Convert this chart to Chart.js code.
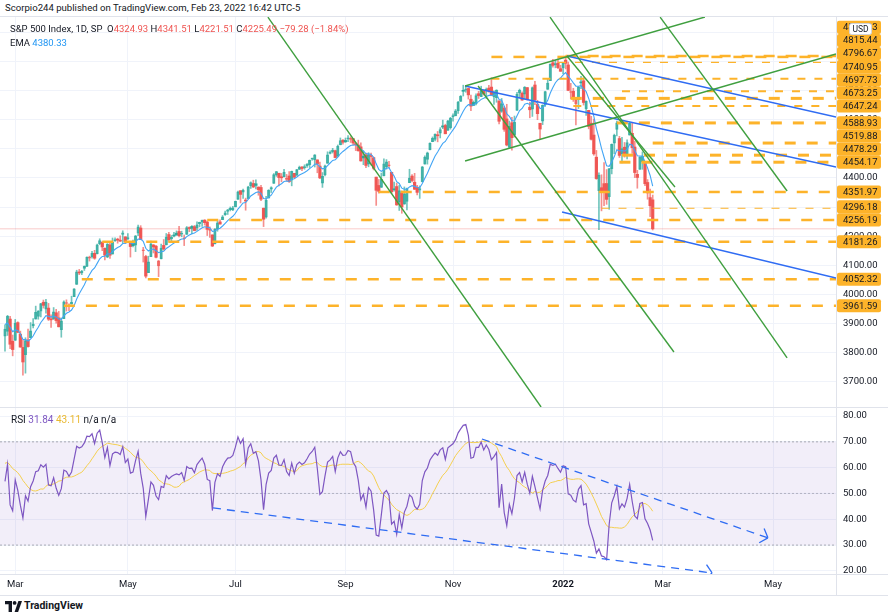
<!DOCTYPE html>
<html>
<head>
<meta charset="utf-8">
<title>S&amp;P 500 Index, 1D</title>
<script src="https://cdn.jsdelivr.net/npm/chart.js@4.4.1/dist/chart.umd.min.js"></script>
<style>
  html, body { margin: 0; padding: 0; background: #fff; }
  body { width: 888px; height: 616px; position: relative; overflow: hidden;
         font-family: Roboto, "Noto Sans", sans-serif; font-size: 9.5px; color: #131722; }
  canvas { position: absolute; left: 0; }
  #price { top: 17px; }
  #rsi { top: 407px; }
  .txt { position: absolute; white-space: nowrap; line-height: 12px; }
  .hline { position: absolute; left: 0; width: 888px; height: 1px; background: #e0e3eb; }
  .vline { position: absolute; left: 836px; top: 17px; width: 1px; height: 578px; background: #e0e3eb; }
  .dn { color: #ef5350; }
  .ema { color: #2196f3; }
  .rsiv { color: #7e57c2; }
  .rsim { color: #e9b830; }
</style>
</head>
<body>
<canvas id="price" width="888" height="390"></canvas>
<canvas id="rsi" width="888" height="188"></canvas>
<div class="hline" style="top:16px"></div>
<div class="hline" style="top:407px"></div>
<div class="hline" style="top:574px"></div>
<div class="hline" style="top:595px"></div>
<div class="vline"></div>
<div class="txt" style="left:5px;top:2px;font-size:9.6px">Scorpio244 published on TradingView.com, Feb 23, 2022 16:42 UTC-5</div>
<div class="txt" style="left:10px;top:23px">S&amp;P 500 Index, 1D, SP&nbsp; O<span class="dn">4324.93</span> H<span class="dn">4341.51</span> L<span class="dn">4221.51</span> C<span class="dn">4225.49</span> <span class="dn">−79.28 (−1.84%)</span></div>
<div class="txt" style="left:10px;top:37px">EMA <span class="ema">4380.33</span></div>
<div class="txt" style="left:11px;top:414px;font-size:10px">RSI <span class="rsiv">31.84</span> <span class="rsim">43.11</span> n/a n/a</div>
<svg style="position:absolute;left:5px;top:601px" width="17" height="11" viewBox="0 0 17 11">
  <path d="M0 0h7v11H3.6V3.3H0z" fill="#131722"/>
  <circle cx="9.6" cy="1.9" r="1.9" fill="#131722"/>
  <path d="M9.6 11L13.4 0H17l-3.9 11z" fill="#131722"/>
</svg>
<div class="txt" style="left:24px;top:600px;font-weight:700;font-size:10.5px">TradingView</div>

<script>
// ---- data: S&P 500 daily candles, Feb 23 2021 .. Feb 23 2022 (x = trading day index) ----
// closes before the first drawn candle, only used to warm up EMA / RSI
const warmupCloses = [3662.45, 3669.01, 3666.72, 3699.12, 3691.96, 3702.25, 3672.82, 3668.10, 3663.46, 3647.49, 3694.62, 3701.17, 3722.48, 3709.41, 3694.92, 3687.26, 3690.01, 3703.06, 3735.36, 3727.04, 3732.04, 3756.07,
  3700.65, 3726.86, 3748.14, 3803.79, 3824.68, 3799.61, 3801.19, 3809.84, 3795.54, 3768.25, 3798.91, 3851.85, 3853.07, 3841.47, 3855.36, 3849.62, 3750.77, 3787.38, 3714.24,
  3773.86, 3826.31, 3830.17, 3871.74, 3886.83, 3915.59, 3911.23, 3909.88, 3916.38, 3934.83, 3932.59, 3931.33, 3913.97, 3906.71, 3876.50];

const opens = [3857.07, 3873.71, 3915.80, 3839.66,
  3842.51, 3903.64, 3863.99, 3818.53, 3793.58, 3844.39, 3851.93, 3891.99, 3915.54, 3924.52, 3942.96, 3973.59, 3949.57, 3953.50, 3913.14, 3916.48, 3937.60, 3919.93, 3879.34, 3917.12, 3969.31, 3963.34, 3967.25,
  3992.78, 4034.44, 4075.57, 4074.29, 4089.95, 4096.11, 4124.71, 4130.10, 4141.58, 4139.76, 4174.14, 4179.80, 4159.18, 4128.42, 4170.46, 4138.78, 4185.03, 4188.25, 4185.14, 4206.14, 4198.10,
  4191.98, 4179.04, 4177.06, 4169.14, 4210.34, 4228.29, 4150.34, 4130.55, 4074.99, 4129.58, 4169.92, 4165.94, 4098.45, 4121.97, 4168.61, 4170.16, 4205.94, 4191.59, 4201.94, 4210.77,
  4216.52, 4206.82, 4191.43, 4206.05, 4229.34, 4233.81, 4232.99, 4228.56, 4242.90, 4248.31, 4255.28, 4248.87, 4220.37, 4204.78, 4173.40, 4224.61, 4249.27, 4256.97, 4274.45, 4284.90, 4293.21, 4290.65,
  4300.73, 4326.60, 4356.46, 4351.01, 4321.07, 4329.38, 4372.41, 4381.07, 4380.11, 4369.02, 4367.43, 4296.40, 4265.11, 4331.13, 4361.27, 4381.20, 4409.58, 4416.38, 4402.95, 4403.59, 4395.12,
  4406.86, 4392.74, 4415.95, 4408.86, 4429.07, 4437.77, 4435.79, 4442.18, 4446.08, 4464.84, 4461.65, 4462.12, 4440.94, 4382.44, 4410.56, 4450.29, 4484.40, 4490.45, 4493.75, 4474.10, 4513.76, 4529.75,
  4528.80, 4534.48, 4532.42, 4535.38, 4518.09, 4513.02, 4506.92, 4474.81, 4479.33, 4447.49, 4477.09, 4469.74, 4402.95, 4374.45, 4367.43, 4406.75, 4438.04, 4442.12, 4419.54, 4362.41, 4370.67,
  4317.16, 4348.84, 4309.87, 4319.57, 4383.73, 4406.51, 4385.44, 4368.31, 4358.01, 4386.75, 4447.69, 4463.72, 4497.34, 4524.42, 4532.24, 4546.12, 4553.69, 4578.69, 4580.22, 4562.84, 4572.87,
  4610.62, 4613.34, 4630.65, 4662.93, 4699.26, 4701.48, 4707.25, 4670.26, 4659.39, 4655.24, 4689.30, 4679.42, 4701.50, 4700.72, 4708.44, 4712.00, 4678.48, 4675.78, 4664.63, 4628.75, 4640.25,
  4602.82, 4504.73, 4589.49, 4548.37, 4631.97, 4690.86, 4691.00, 4687.64, 4710.30, 4642.99, 4636.46, 4719.13, 4652.50, 4587.90, 4594.96, 4650.36, 4703.96, 4733.99, 4795.49, 4788.64, 4794.23, 4775.21,
  4778.14, 4804.51, 4787.99, 4693.39, 4697.66, 4655.34, 4669.14, 4728.59, 4733.56, 4637.99, 4632.24, 4588.03, 4547.35, 4471.38, 4356.32, 4366.64, 4380.58, 4380.95, 4336.19, 4431.79,
  4519.57, 4566.39, 4535.41, 4482.79, 4505.75, 4480.02, 4547.00, 4553.24, 4506.27, 4412.61, 4429.28, 4455.75, 4456.06, 4384.57, 4332.74, 4324.93];

const highs = [3895.98, 3928.65, 3925.02, 3861.08,
  3914.50, 3906.41, 3874.47, 3843.67, 3851.69, 3881.06, 3903.76, 3917.35, 3960.27, 3944.99, 3970.08, 3981.04, 3983.87, 3969.62, 3930.12, 3955.31, 3949.13, 3942.08, 3919.54, 3978.19, 3981.83, 3968.01, 3994.41,
  4020.63, 4083.42, 4086.23, 4083.13, 4098.19, 4129.48, 4131.76, 4148.00, 4151.69, 4173.49, 4191.31, 4180.81, 4159.18, 4175.02, 4179.57, 4194.17, 4194.19, 4193.35, 4201.53, 4218.78, 4198.10,
  4209.39, 4179.04, 4186.72, 4202.70, 4238.04, 4236.39, 4162.04, 4134.73, 4131.58, 4183.13, 4171.92, 4169.15, 4116.93, 4172.80, 4188.72, 4209.52, 4213.42, 4202.61, 4213.38, 4218.36,
  4234.12, 4217.37, 4204.39, 4233.45, 4232.34, 4236.74, 4237.09, 4249.74, 4248.38, 4255.59, 4257.16, 4251.89, 4232.29, 4204.78, 4226.24, 4255.84, 4256.60, 4271.28, 4286.12, 4292.14, 4300.52, 4302.43,
  4320.66, 4355.43, 4356.46, 4361.88, 4330.88, 4371.60, 4386.68, 4392.37, 4393.68, 4369.02, 4375.09, 4296.40, 4336.84, 4359.70, 4369.87, 4415.18, 4422.73, 4416.38, 4415.47, 4429.97, 4412.25,
  4422.18, 4423.79, 4416.17, 4429.76, 4440.82, 4439.39, 4445.21, 4449.44, 4461.77, 4468.37, 4480.26, 4462.12, 4454.32, 4418.61, 4444.35, 4489.88, 4492.81, 4501.71, 4495.90, 4513.33, 4537.36, 4531.39,
  4537.11, 4545.85, 4541.45, 4535.38, 4521.79, 4529.90, 4520.47, 4492.99, 4485.68, 4486.87, 4485.87, 4471.52, 4402.95, 4394.87, 4416.75, 4465.40, 4463.12, 4457.30, 4419.54, 4385.57, 4382.55,
  4375.19, 4355.51, 4369.23, 4365.57, 4429.97, 4412.02, 4415.88, 4374.89, 4372.87, 4439.73, 4475.82, 4488.75, 4520.40, 4540.87, 4551.44, 4559.67, 4572.62, 4598.53, 4584.57, 4597.55, 4608.08,
  4620.34, 4635.15, 4663.46, 4683.00, 4718.50, 4714.92, 4708.53, 4684.85, 4664.55, 4688.47, 4697.42, 4714.95, 4701.50, 4708.80, 4717.75, 4743.83, 4699.39, 4702.87, 4664.63, 4672.95, 4646.02,
  4652.94, 4595.46, 4608.03, 4612.60, 4694.04, 4705.06, 4695.26, 4713.57, 4710.30, 4660.47, 4712.60, 4731.99, 4666.70, 4587.90, 4651.14, 4697.67, 4740.74, 4791.49, 4807.02, 4804.06, 4808.93, 4786.83,
  4796.64, 4818.62, 4797.70, 4725.01, 4707.95, 4673.02, 4714.13, 4748.83, 4744.13, 4665.13, 4632.24, 4611.55, 4602.11, 4494.52, 4417.35, 4411.01, 4453.23, 4428.74, 4432.72, 4516.89,
  4550.49, 4595.31, 4542.88, 4539.66, 4521.86, 4531.32, 4590.03, 4588.92, 4526.33, 4426.22, 4472.77, 4489.55, 4456.06, 4394.60, 4362.12, 4341.51];

const lows = [3805.59, 3859.60, 3814.04, 3789.54,
  3842.51, 3868.57, 3818.86, 3723.34, 3730.19, 3819.25, 3851.93, 3885.73, 3915.54, 3915.21, 3923.54, 3953.44, 3935.74, 3910.86, 3886.75, 3914.16, 3901.57, 3889.07, 3853.50, 3917.12, 3943.25, 3944.35, 3966.98,
  3992.78, 4034.44, 4068.14, 4068.31, 4082.54, 4095.51, 4114.82, 4124.43, 4120.87, 4139.76, 4170.75, 4150.47, 4118.38, 4126.35, 4123.69, 4138.78, 4182.36, 4176.22, 4181.78, 4176.81, 4174.85,
  4188.03, 4128.59, 4163.22, 4147.33, 4201.64, 4188.13, 4111.53, 4056.88, 4074.99, 4129.58, 4142.69, 4125.99, 4061.41, 4121.97, 4151.72, 4170.16, 4182.52, 4184.11, 4197.78, 4203.57,
  4197.59, 4198.27, 4167.93, 4206.05, 4215.66, 4208.41, 4218.74, 4220.34, 4232.25, 4234.07, 4238.35, 4202.45, 4196.05, 4164.40, 4173.40, 4217.27, 4241.43, 4256.97, 4271.16, 4274.67, 4287.04, 4287.96,
  4300.73, 4326.60, 4314.37, 4329.79, 4289.37, 4329.38, 4364.03, 4366.92, 4362.36, 4340.70, 4322.53, 4233.13, 4262.05, 4331.13, 4350.06, 4381.20, 4405.45, 4372.51, 4387.01, 4403.59, 4389.65,
  4384.81, 4373.00, 4400.23, 4408.86, 4429.07, 4424.74, 4430.03, 4436.42, 4435.96, 4460.82, 4437.66, 4417.83, 4397.59, 4367.73, 4406.80, 4450.29, 4482.28, 4485.66, 4468.99, 4474.10, 4513.76, 4515.80,
  4522.02, 4524.66, 4521.94, 4513.00, 4493.95, 4492.07, 4457.66, 4445.70, 4435.46, 4438.37, 4443.80, 4427.76, 4305.91, 4347.96, 4367.43, 4406.75, 4430.27, 4436.19, 4346.33, 4355.08, 4306.24,
  4288.52, 4278.94, 4309.87, 4290.49, 4383.73, 4386.22, 4360.59, 4342.09, 4329.92, 4386.75, 4447.69, 4447.47, 4496.41, 4524.40, 4526.89, 4524.00, 4537.36, 4569.17, 4551.66, 4562.84, 4567.59,
  4595.06, 4613.34, 4621.19, 4662.59, 4681.32, 4694.39, 4670.87, 4630.86, 4648.31, 4650.77, 4672.86, 4679.42, 4684.41, 4672.78, 4694.22, 4682.17, 4652.66, 4659.89, 4585.43, 4625.26, 4560.00,
  4510.27, 4504.73, 4495.12, 4540.51, 4631.97, 4674.52, 4665.98, 4670.24, 4667.60, 4606.52, 4611.22, 4651.89, 4600.22, 4531.10, 4583.16, 4645.53, 4703.96, 4733.99, 4780.04, 4778.08, 4775.33, 4765.75,
  4758.17, 4774.27, 4699.44, 4671.26, 4662.74, 4582.24, 4638.27, 4706.71, 4650.29, 4614.75, 4568.70, 4530.20, 4477.95, 4395.34, 4222.62, 4287.11, 4304.80, 4309.50, 4292.46, 4414.02,
  4483.53, 4544.32, 4470.39, 4451.50, 4471.47, 4465.40, 4547.00, 4484.31, 4401.41, 4364.84, 4429.28, 4429.68, 4373.81, 4327.22, 4267.11, 4221.51];

const closes = [3881.37, 3925.43, 3829.34, 3811.15,
  3901.82, 3870.29, 3819.72, 3768.47, 3841.94, 3821.35, 3875.44, 3898.81, 3939.34, 3943.34, 3968.94, 3962.71, 3974.12, 3915.46, 3913.10, 3940.59, 3910.52, 3889.14, 3909.52, 3974.54, 3971.09, 3958.55, 3972.89,
  4019.87, 4077.91, 4073.94, 4079.95, 4097.17, 4128.80, 4127.99, 4141.59, 4124.66, 4170.42, 4185.47, 4163.26, 4134.94, 4173.42, 4134.98, 4180.17, 4187.62, 4186.72, 4183.18, 4211.47, 4181.17,
  4192.66, 4164.66, 4167.59, 4201.62, 4232.60, 4188.43, 4152.10, 4063.04, 4112.50, 4173.85, 4163.29, 4127.83, 4115.68, 4159.12, 4155.86, 4197.05, 4188.13, 4195.99, 4200.88, 4204.11,
  4202.04, 4208.12, 4192.85, 4229.89, 4226.52, 4227.26, 4219.55, 4239.18, 4247.44, 4255.15, 4246.59, 4223.70, 4221.86, 4166.45, 4224.79, 4246.44, 4241.84, 4266.49, 4280.70, 4290.61, 4291.80, 4297.50,
  4319.94, 4352.34, 4343.54, 4358.13, 4320.82, 4369.55, 4384.63, 4369.21, 4374.30, 4360.03, 4327.16, 4258.49, 4323.06, 4358.69, 4367.48, 4411.79, 4422.30, 4401.46, 4400.64, 4419.15, 4395.26,
  4387.16, 4423.15, 4402.66, 4429.10, 4436.52, 4432.35, 4436.75, 4447.70, 4460.83, 4468.00, 4479.71, 4448.08, 4400.27, 4405.80, 4441.67, 4479.53, 4486.23, 4496.19, 4470.00, 4509.37, 4528.79, 4522.68,
  4524.09, 4536.95, 4535.43, 4520.03, 4514.07, 4493.28, 4458.58, 4468.73, 4443.05, 4480.70, 4473.75, 4432.99, 4357.73, 4354.19, 4395.64, 4448.98, 4455.48, 4443.11, 4352.63, 4359.46, 4307.54,
  4357.04, 4300.46, 4345.72, 4363.55, 4399.76, 4391.34, 4361.19, 4350.65, 4363.80, 4438.26, 4471.37, 4486.46, 4519.63, 4536.19, 4549.78, 4544.90, 4566.48, 4574.79, 4551.68, 4596.42, 4605.38,
  4613.67, 4630.65, 4660.57, 4680.06, 4697.53, 4701.70, 4685.25, 4646.71, 4649.27, 4682.85, 4682.80, 4700.90, 4688.67, 4704.54, 4697.96, 4682.94, 4690.70, 4701.46, 4594.62, 4655.27, 4567.00,
  4513.04, 4577.10, 4538.43, 4591.67, 4686.75, 4701.21, 4667.45, 4712.02, 4668.97, 4634.09, 4709.85, 4668.67, 4620.64, 4568.02, 4649.23, 4696.56, 4725.79, 4791.19, 4786.35, 4793.06, 4778.73, 4766.18,
  4796.56, 4793.54, 4700.58, 4696.05, 4677.03, 4670.29, 4713.07, 4726.35, 4659.03, 4662.85, 4577.11, 4532.76, 4482.73, 4397.94, 4410.13, 4356.45, 4349.93, 4326.51, 4431.85, 4515.55,
  4546.54, 4589.38, 4477.44, 4500.53, 4483.87, 4521.54, 4587.18, 4504.08, 4418.64, 4401.67, 4471.07, 4475.01, 4380.26, 4348.87, 4304.77, 4225.49];

// time axis labels: [trading day index, text]
const monthTickDays = [4, 48, 90, 133, 175, 218, 257, 300];
const monthTickLabels = ['Mar', 'May', 'Jul', 'Sep', 'Nov', '2022', 'Mar', 'May'];

// horizontal rays: price and the day they start on
const levelPrices = [4818.63, 4815.44, 4796.67, 4740.95, 4697.73, 4673.25, 4647.24, 4588.93, 4519.88, 4478.29, 4454.17, 4351.97, 4296.18, 4256.19, 4181.26, 4052.32, 3961.59];
const levelStartDay = [219, 190, 216, 190, 241, 221, 222, 239, 253, 241, 240, 146, 233, 79, 38, 30, 23];
const lastPrice = 4225.49;

// trend lines, [day, price] end points
const greenLines = [
  [[102.7, 4952], [209.4, 3614]],
  [[184.8, 4715.7], [261.3, 3802.9]],
  [[212.9, 4952], [305.5, 3782.3]],
  [[219.5, 4818.7], [261.7, 4369]],
  [[255.9, 4952], [305.5, 4355.4]],
  [[179.7, 4715.7], [273.4, 4952.5]],
  [[179.7, 4458.3], [324.6, 4825.5]]
];
const blueLines = [
  [[219.5, 4818.7], [324.6, 4609.3]],
  [[179.7, 4715.7], [324.6, 4437.7]],
  [[217.6, 4283.3], [324.6, 4056.8]]
];
// dashed arrows on the RSI pane, [day, rsi]
const rsiLines = [
  [[186.3, 71.1], [298.0, 32.8]],
  [[81.25, 44.4], [276.2, 19.2]]
];

// ---- look ----
const X_MIN = -1.95, X_MAX = 324.6;
const P_MIN = 3614, P_MAX = 4952.5;
const R_MIN = 18.8, R_MAX = 83.5;
const FONT = 'Roboto, "Noto Sans", sans-serif';
const GRID = '#f0f3fa';
const ORANGE = '#fdb32a';
const GREEN = '#3f9f3f';
const BLUE = '#2f6cf3';
const levelWidths = [2.5, 2.5, 1.4, 2, 2, 3, 2, 3, 3, 3, 3, 2.5, 1.2, 2.5, 2.5, 2.5, 2.5];
const TAG_H = 13.1;

// ---- indicators (EMA 9, RSI 14 with 14 SMA) ----
const allCloses = warmupCloses.concat(closes);
const W = warmupCloses.length;

function ema(src, n) {
  const a = 2 / (n + 1);
  const out = [];
  src.forEach((v, k) => out.push(k === 0 ? v : a * v + (1 - a) * out[k - 1]));
  return out;
}
function rsi(src, n) {
  const out = src.map(() => null);
  let g = 0, l = 0;
  for (let k = 1; k <= n; k++) {
    const d = src[k] - src[k - 1];
    if (d > 0) g += d; else l -= d;
  }
  g /= n; l /= n;
  out[n] = 100 - 100 / (1 + g / l);
  for (let k = n + 1; k < src.length; k++) {
    const d = src[k] - src[k - 1];
    g = (g * (n - 1) + Math.max(d, 0)) / n;
    l = (l * (n - 1) + Math.max(-d, 0)) / n;
    out[k] = l === 0 ? 100 : 100 - 100 / (1 + g / l);
  }
  return out;
}
function sma(src, n) {
  return src.map((v, k) => {
    if (k < n - 1) return null;
    const win = src.slice(k - n + 1, k + 1);
    if (win.some(x => x === null)) return null;
    return win.reduce((s, x) => s + x, 0) / n;
  });
}
const emaVals = ema(allCloses, 9).slice(W);
const rsiAll = rsi(allCloses, 14);
const rsiVals = rsiAll.slice(W);
const rsiMaVals = sma(rsiAll, 14).slice(W);

// ---- hollow candle colours ----
const TEAL = '38,166,154', RED = '239,83,80';
const candleRGB = closes.map((c, i) => c >= (i ? closes[i - 1] : warmupCloses[W - 1]) ? TEAL : RED);
const filled = closes.map((c, i) => c < opens[i]);
const bodyFill = candleRGB.map((rgb, i) => filled[i] ? `rgba(${rgb},0.95)` : `rgba(${rgb},0.25)`);
const bodyBorder = candleRGB.map((rgb, i) => filled[i] ? `rgba(${rgb},0.95)` : `rgba(${rgb},0.75)`);
const bodyBW = filled.map(f => f ? 0 : 0.8);
const wickColor = candleRGB.map(rgb => `rgba(${rgb},0.65)`);

const seg = (pts, color, width, order, dash) => ({
  type: 'line', data: pts.map(p => ({ x: p[0], y: p[1] })),
  borderColor: color, borderWidth: width, borderDash: dash || [], pointRadius: 0, order
});

const timeX = (showLabels) => ({
  type: 'linear', min: X_MIN, max: X_MAX, offset: false,
  grid: { color: GRID, drawTicks: false, offset: false },
  border: { display: false },
  afterBuildTicks: s => { s.ticks = monthTickDays.map(v => ({ value: v })); },
  ticks: {
    display: showLabels, autoSkip: false, maxRotation: 0, padding: 5, color: '#131722',
    font: c => ({ family: FONT, size: 9.5, weight: c.index === 5 ? 'bold' : 'normal' }),
    callback: (v, i) => monthTickLabels[i]
  },
  afterFit: s => { s.height = showLabels ? 21 : 0; s.paddingLeft = 0; s.paddingRight = 0; }
});
const rightY = (min, max, step) => ({
  position: 'right', min, max, beginAtZero: false,
  grid: { color: GRID, drawTicks: false },
  border: { display: false },
  ticks: { stepSize: step, includeBounds: false, autoSkip: false, padding: 7, color: '#131722',
           font: { family: FONT, size: 9.5 }, callback: v => v.toFixed(2) },
  afterFit: s => { s.width = 52; s.paddingTop = 0; s.paddingBottom = 0; }
});

// tags for the horizontal rays, pushed apart like the platform does
const levelTags = {
  id: 'levelTags',
  afterDraw(chart) {
    const { ctx, chartArea, scales } = chart;
    const tags = levelPrices.map(p => ({ p, y: scales.y.getPixelForValue(p) })).sort((a, b) => b.y - a.y);
    let prev = Infinity;
    tags.forEach(t => { t.y = Math.min(t.y, prev - TAG_H); prev = t.y; });
    ctx.save();
    ctx.font = `9.5px ${FONT}`;
    ctx.textBaseline = 'middle';
    tags.forEach(t => {
      ctx.fillStyle = ORANGE;
      ctx.beginPath();
      ctx.roundRect(chartArea.right + 1, t.y - TAG_H / 2, 44, TAG_H, 2);
      ctx.fill();
      ctx.fillStyle = '#131722';
      ctx.fillText(t.p.toFixed(2), chartArea.right + 7, t.y + 0.5);
    });
    // currency badge
    ctx.fillStyle = '#fff';
    ctx.strokeStyle = '#d1d4dc';
    ctx.lineWidth = 1;
    ctx.beginPath();
    ctx.roundRect(849.5, 6.5, 22, 11, 2);
    ctx.fill(); ctx.stroke();
    ctx.fillStyle = '#131722';
    ctx.font = `8.5px ${FONT}`;
    ctx.textAlign = 'center';
    ctx.fillText('USD', 860.5, 12.5);
    ctx.restore();
  }
};

const arrowHeads = {
  id: 'arrowHeads',
  afterDatasetsDraw(chart) {
    const { ctx, chartArea, scales: { x, y } } = chart;
    ctx.save();
    ctx.beginPath();
    ctx.rect(chartArea.left, chartArea.top, chartArea.width, chartArea.height);
    ctx.clip();
    ctx.strokeStyle = BLUE;
    ctx.lineWidth = 1.3;
    rsiLines.forEach(([a, b]) => {
      const x1 = x.getPixelForValue(a[0]), y1 = y.getPixelForValue(a[1]);
      const x2 = x.getPixelForValue(b[0]), y2 = y.getPixelForValue(b[1]);
      const ang = Math.atan2(y2 - y1, x2 - x1) + Math.PI;
      [-0.85, 0.85].forEach(d => {
        ctx.beginPath();
        ctx.moveTo(x2, y2);
        ctx.lineTo(x2 + 10 * Math.cos(ang + d), y2 + 10 * Math.sin(ang + d));
        ctx.stroke();
      });
    });
    ctx.restore();
  }
};

const days = closes.map((c, i) => i);

new Chart(document.getElementById('price'), {
  type: 'bar',
  data: {
    datasets: [
      ...greenLines.map(l => seg(l, GREEN, 1.4, 1)),
      ...blueLines.map(l => seg(l, BLUE, 1.4, 1)),
      ...levelPrices.map((p, k) => ({
        type: 'line', data: [{ x: levelStartDay[k], y: p }, { x: X_MAX, y: p }],
        borderColor: ORANGE, borderWidth: levelWidths[k], borderDash: levelWidths[k] > 2 ? [11, 11] : [8, 9],
        pointRadius: 0, order: 2
      })),
      { type: 'line', data: days.map(i => ({ x: i, y: emaVals[i] })), borderColor: '#42a5f5',
        borderWidth: 1.1, pointRadius: 0, order: 3 },
      { type: 'bar', data: days.map(i => ({ x: i, y: [opens[i], closes[i]] })),
        backgroundColor: bodyFill, borderColor: bodyBorder, borderWidth: bodyBW, borderSkipped: false,
        barThickness: 2.6, minBarLength: 1, grouped: false, order: 4 },
      { type: 'bar', data: days.map(i => ({ x: i, y: [lows[i], highs[i]] })),
        backgroundColor: wickColor, borderWidth: 0, barThickness: 1, grouped: false, order: 5 },
      { type: 'line', data: [{ x: X_MIN, y: lastPrice }, { x: X_MAX, y: lastPrice }],
        borderColor: 'rgba(239,83,80,0.3)', borderWidth: 1, pointRadius: 0, order: 6 }
    ]
  },
  options: {
    responsive: false, animation: false, events: [],
    layout: { padding: 0 },
    plugins: { legend: { display: false }, tooltip: { enabled: false } },
    scales: { x: timeX(false), y: rightY(P_MIN, P_MAX, 100) }
  },
  plugins: [levelTags]
});

new Chart(document.getElementById('rsi'), {
  type: 'line',
  data: {
    datasets: [
      ...rsiLines.map(l => seg(l, BLUE, 1.3, 1, [8, 6])),
      { data: days.map(i => ({ x: i, y: rsiVals[i] })), borderColor: '#7e57c2', borderWidth: 1.2, pointRadius: 0, order: 2 },
      { data: days.map(i => ({ x: i, y: rsiMaVals[i] })), borderColor: '#f4cf4f', borderWidth: 1, pointRadius: 0, order: 3 },
      { data: [{ x: X_MIN, y: 70 }, { x: X_MAX, y: 70 }], borderColor: 'rgba(120,123,134,0.6)', borderWidth: 1,
        borderDash: [2, 2], pointRadius: 0, fill: { value: 30 }, backgroundColor: 'rgba(126,87,194,0.1)', order: 6 },
      { data: [{ x: X_MIN, y: 50 }, { x: X_MAX, y: 50 }], borderColor: 'rgba(120,123,134,0.45)', borderWidth: 1,
        borderDash: [2, 2], pointRadius: 0, order: 5 },
      { data: [{ x: X_MIN, y: 30 }, { x: X_MAX, y: 30 }], borderColor: 'rgba(120,123,134,0.6)', borderWidth: 1,
        borderDash: [2, 2], pointRadius: 0, order: 5 }
    ]
  },
  options: {
    responsive: false, animation: false, events: [],
    layout: { padding: 0 },
    plugins: { legend: { display: false }, tooltip: { enabled: false } },
    scales: { x: timeX(true), y: rightY(R_MIN, R_MAX, 10) }
  },
  plugins: [arrowHeads]
});
</script>
</body>
</html>
